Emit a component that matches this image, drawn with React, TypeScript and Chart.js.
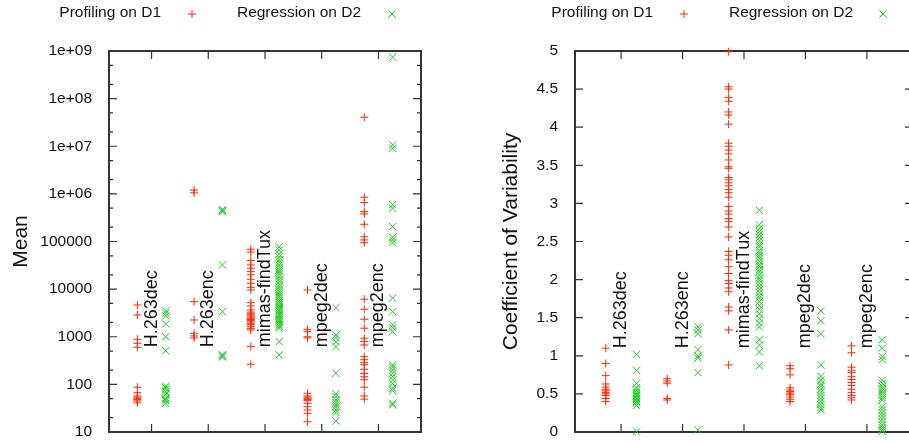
import React, { useEffect, useRef } from 'react';
import { Chart, registerables } from 'chart.js';

Chart.register(...registerables);

const FONT = '"Liberation Sans", Arial, Helvetica, sans-serif';
const RED = '#ff2a00';
const GREEN = '#1ec81e';
const INK = '#111111';
const FRAME = '#333333';

const categories = ['H.263dec', 'H.263enc', 'mimas-findTux', 'mpeg2dec', 'mpeg2enc'];
const groupPositions = [1, 2, 3, 4, 5];
const seriesNames = ['Profiling on D1', 'Regression on D2'];
const seriesOffsets = [-0.25, 0.25];

// ---- Mean (log scale) ----
const meanTickValues = [10, 100, 1000, 10000, 100000, 1e6, 1e7, 1e8, 1e9];
const meanTickLabels = ['10', '100', '1000', '10000', '100000', '1e+06', '1e+07', '1e+08', '1e+09'];
const meanMinorTicks = [20, 50, 200, 500, 2000, 5000, 2e4, 5e4, 2e5, 5e5, 2e6, 5e6, 2e7, 5e7, 2e8, 5e8];
const meanLabelAnchor = 600;

const meanProfH263dec = [4640, 2860, 885, 730, 600, 87, 67, 57, 54, 51, 48, 45, 41];
const meanRegH263dec = [3480, 3120, 2740, 1860, 1000, 510, 92, 85, 79, 70, 62, 51, 48, 45, 40];
const meanProfH263enc = [1200000, 1050000, 5460, 2250, 1180, 1040, 944];
const meanRegH263enc = [470000, 440000, 420000, 32200, 3370, 420, 395, 375];
const meanProfMimas = [68900, 60000, 40000, 32200, 27500, 23300, 20000, 16100, 13300, 10900, 9600, 5200, 4430, 3650, 3300, 3110, 2900, 2730, 2600, 2440, 2300, 2180, 2050, 1920, 1800, 1630, 1500, 1390, 620, 264];
const meanRegMimas = [77000, 66000, 54000, 47000, 41000, 36500, 32000, 28500, 25500, 23000, 20500, 18200, 16000, 14300, 12600, 11200, 9900, 8800, 7900, 7100, 6400, 5800, 5300, 4800, 4400, 4050, 3700, 3450, 3150, 2900, 2700, 2480, 2300, 2120, 1960, 1800, 1650, 1520, 790, 415];
const meanProfMpeg2dec = [9600, 1430, 1280, 1000, 944, 65, 57, 54, 51, 48, 45.5, 40, 34, 29, 24.7, 16.5];
const meanRegMpeg2dec = [4090, 1090, 960, 787, 620, 171, 63, 55, 47, 41.5, 37, 33, 29, 25.5, 17];
const meanProfMpeg2enc = [40800000, 850000, 657000, 425000, 380000, 230000, 126000, 108000, 94000, 6140, 3790, 2330, 1510, 931, 800, 673, 382, 330, 290, 260, 207, 170, 145, 125, 87, 57, 49];
const meanRegMpeg2enc = [740000000, 10700000, 9100000, 590000, 500000, 205000, 123000, 108000, 94000, 6460, 3370, 1770, 1550, 1280, 256, 230, 200, 171, 145, 124, 104, 83, 74, 40, 37];

const meanProfiling = [meanProfH263dec, meanProfH263enc, meanProfMimas, meanProfMpeg2dec, meanProfMpeg2enc];
const meanRegression = [meanRegH263dec, meanRegH263enc, meanRegMimas, meanRegMpeg2dec, meanRegMpeg2enc];

// ---- Coefficient of Variability (linear) ----
const cvTickValues = [0, 0.5, 1, 1.5, 2, 2.5, 3, 3.5, 4, 4.5, 5];
const cvTickLabels = ['0', '0.5', '1', '1.5', '2', '2.5', '3', '3.5', '4', '4.5', '5'];
const cvLabelAnchor = 1.1;

const cvProfH263dec = [1.10, 0.90, 0.74, 0.63, 0.59, 0.56, 0.54, 0.52, 0.50, 0.48, 0.44, 0.40];
const cvRegH263dec = [1.02, 0.81, 0.64, 0.58, 0.55, 0.52, 0.50, 0.48, 0.46, 0.44, 0.42, 0.40, 0.38, 0.35, 0.01];
const cvProfH263enc = [0.70, 0.67, 0.64, 0.44, 0.42];
const cvRegH263enc = [1.38, 1.34, 1.29, 1.08, 1.00, 0.97, 0.78, 0.03];
const cvProfMimas = [4.99, 4.53, 4.50, 4.39, 4.34, 4.20, 4.16, 4.04, 3.79, 3.75, 3.70, 3.65, 3.57, 3.48, 3.46, 3.34, 3.31, 3.27, 3.23, 3.18, 3.14, 3.08, 2.96, 2.90, 2.86, 2.80, 2.76, 2.69, 2.56, 2.37, 2.32, 2.26, 2.17, 2.08, 1.99, 1.95, 1.89, 1.84, 1.64, 1.59, 1.34, 0.88];
const cvRegMimas = [2.91, 2.72, 2.67, 2.63, 2.59, 2.55, 2.51, 2.46, 2.43, 2.38, 2.35, 2.31, 2.28, 2.24, 2.20, 2.17, 2.13, 2.10, 2.06, 2.02, 1.99, 1.95, 1.91, 1.87, 1.83, 1.79, 1.76, 1.71, 1.66, 1.61, 1.55, 1.49, 1.43, 1.38, 1.21, 1.14, 1.05, 0.87];
const cvProfMpeg2dec = [0.87, 0.83, 0.75, 0.58, 0.55, 0.53, 0.51, 0.49, 0.46, 0.43, 0.40];
const cvRegMpeg2dec = [1.59, 1.46, 1.29, 0.88, 0.73, 0.68, 0.63, 0.60, 0.56, 0.52, 0.48, 0.44, 0.40, 0.36, 0.32, 0.29];
const cvProfMpeg2enc = [1.13, 1.04, 0.85, 0.81, 0.78, 0.73, 0.69, 0.65, 0.61, 0.56, 0.52, 0.48, 0.45, 0.42];
const cvRegMpeg2enc = [1.21, 1.10, 0.99, 0.95, 0.68, 0.64, 0.60, 0.57, 0.54, 0.51, 0.48, 0.45, 0.42, 0.33, 0.29, 0.25, 0.21, 0.17, 0.13, 0.09, 0.06, 0.03, 0.01];

const cvProfiling = [cvProfH263dec, cvProfH263enc, cvProfMimas, cvProfMpeg2dec, cvProfMpeg2enc];
const cvRegression = [cvRegH263dec, cvRegH263enc, cvRegMimas, cvRegMpeg2dec, cvRegMpeg2enc];

function toPoints(groups: number[][], offset: number) {
  const pts: { x: number; y: number }[] = [];
  groups.forEach((vals, i) => {
    vals.forEach((v) => pts.push({ x: groupPositions[i] + offset, y: v }));
  });
  return pts;
}

const framePlugin = {
  id: 'frame',
  beforeDatasetsDraw(chart: any, _args: any, opts: any) {
    const { ctx, chartArea: a, scales } = chart;
    const xs = scales.x;
    const ys = scales.y;
    ctx.save();
    ctx.strokeStyle = FRAME;
    ctx.lineWidth = 1.2;
    ctx.beginPath();
    for (const v of opts.major) {
      const py = ys.getPixelForValue(v);
      ctx.moveTo(a.left, py); ctx.lineTo(a.left + 8, py);
      ctx.moveTo(a.right, py); ctx.lineTo(a.right - 8, py);
    }
    for (const v of opts.minor) {
      const py = ys.getPixelForValue(v);
      ctx.moveTo(a.left, py); ctx.lineTo(a.left + 4, py);
      ctx.moveTo(a.right, py); ctx.lineTo(a.right - 4, py);
    }
    for (const v of groupPositions) {
      const px = xs.getPixelForValue(v);
      ctx.moveTo(px, a.bottom); ctx.lineTo(px, a.bottom - 8);
      ctx.moveTo(px, a.top); ctx.lineTo(px, a.top + 8);
    }
    ctx.stroke();
    ctx.lineWidth = 2;
    ctx.strokeRect(a.left, a.top, a.right - a.left, a.bottom - a.top);
    ctx.restore();
  },
};

const categoryLabelPlugin = {
  id: 'catLabels',
  afterDatasetsDraw(chart: any, _args: any, opts: any) {
    const { ctx, scales } = chart;
    const py = scales.y.getPixelForValue(opts.anchor);
    ctx.save();
    ctx.fillStyle = INK;
    ctx.font = `18px ${FONT}`;
    ctx.textAlign = 'left';
    ctx.textBaseline = 'middle';
    categories.forEach((c, i) => {
      const px = scales.x.getPixelForValue(groupPositions[i]);
      ctx.save();
      ctx.translate(px, py);
      ctx.rotate(-Math.PI / 2);
      ctx.fillText(c, 0, 0);
      ctx.restore();
    });
    ctx.restore();
  },
};

const keyPlugin = {
  id: 'key',
  afterDraw(chart: any, _args: any, opts: any) {
    const { ctx } = chart;
    ctx.save();
    ctx.font = `15.5px ${FONT}`;
    ctx.textAlign = 'right';
    ctx.textBaseline = 'middle';
    const y = 13;
    seriesNames.forEach((name, i) => {
      ctx.fillStyle = INK;
      ctx.fillText(name, opts.textRight[i], y);
      const mx = opts.markerX[i];
      const my = 14;
      ctx.strokeStyle = i === 0 ? RED : GREEN;
      ctx.lineWidth = 1;
      ctx.beginPath();
      if (i === 0) {
        ctx.moveTo(mx - 4, my); ctx.lineTo(mx + 4, my);
        ctx.moveTo(mx, my - 4); ctx.lineTo(mx, my + 4);
      } else {
        ctx.moveTo(mx - 3.7, my - 3.7); ctx.lineTo(mx + 3.7, my + 3.7);
        ctx.moveTo(mx - 3.7, my + 3.7); ctx.lineTo(mx + 3.7, my - 3.7);
      }
      ctx.stroke();
    });
    ctx.restore();
  },
};

function makeConfig(p: any): any {
  return {
    type: 'scatter',
    data: {
      datasets: [
        {
          label: seriesNames[0],
          data: toPoints(p.profiling, seriesOffsets[0]),
          pointStyle: 'cross',
          pointRadius: 4,
          borderColor: RED,
          backgroundColor: 'rgba(0,0,0,0)',
          borderWidth: 1,
          clip: false,
        },
        {
          label: seriesNames[1],
          data: toPoints(p.regression, seriesOffsets[1]),
          pointStyle: 'crossRot',
          pointRadius: 5.2,
          borderColor: GREEN,
          backgroundColor: 'rgba(0,0,0,0)',
          borderWidth: 1,
          clip: false,
        },
      ],
    },
    options: {
      animation: false,
      responsive: false,
      maintainAspectRatio: false,
      events: [],
      layout: { autoPadding: false, padding: { left: 0, right: p.padRight, top: 51, bottom: 10 } },
      plugins: {
        legend: { display: false },
        tooltip: { enabled: false },
        frame: { major: p.tickValues, minor: p.minor },
        catLabels: { anchor: p.labelAnchor },
        key: { textRight: p.keyTextRight, markerX: p.keyMarkerX },
      },
      scales: {
        x: {
          type: 'linear',
          display: false,
          min: 0.25,
          max: 5.75,
          ticks: { display: false },
          grid: { display: false },
          border: { display: false },
        },
        y: {
          type: p.log ? 'logarithmic' : 'linear',
          position: 'left',
          min: p.min,
          max: p.max,
          grid: { display: false },
          border: { display: false },
          afterBuildTicks: (s: any) => { s.ticks = p.tickValues.map((v: number) => ({ value: v })); },
          afterFit: (s: any) => {
            s.width = p.axisWidth;
            s.paddingTop = 0;
            s.paddingBottom = 0;
          },
          ticks: {
            autoSkip: false,
            padding: 9,
            color: INK,
            font: { family: FONT, size: 15.5 },
            callback: (v: number) => {
              const idx = p.tickValues.indexOf(v);
              return idx >= 0 ? p.tickLabels[idx] : '';
            },
          },
          title: {
            display: true,
            text: p.title,
            color: INK,
            font: { family: FONT, size: 21 },
            padding: { top: p.titlePad, bottom: 0 },
          },
        },
      },
    },
    plugins: [framePlugin, categoryLabelPlugin, keyPlugin],
  };
}

function Panel(props: { cfg: any; left: number; width: number }) {
  const ref = useRef<HTMLCanvasElement | null>(null);
  useEffect(() => {
    if (!ref.current) return;
    const chart = new Chart(ref.current, makeConfig(props.cfg));
    return () => chart.destroy();
  }, []);
  return (
    <canvas
      ref={ref}
      width={props.width}
      height={442}
      style={{ position: 'absolute', left: props.left, top: 0, width: props.width, height: 442 }}
    />
  );
}

const meanPanel = {
  profiling: meanProfiling,
  regression: meanRegression,
  log: true,
  min: 10,
  max: 1e9,
  tickValues: meanTickValues,
  tickLabels: meanTickLabels,
  minor: meanMinorTicks,
  labelAnchor: meanLabelAnchor,
  title: 'Mean',
  titlePad: 8.5,
  axisWidth: 109,
  padRight: 34,
  keyTextRight: [161, 361],
  keyMarkerX: [192, 392],
};

const cvPanel = {
  profiling: cvProfiling,
  regression: cvRegression,
  log: false,
  min: 0,
  max: 5,
  tickValues: cvTickValues,
  tickLabels: cvTickLabels,
  minor: [],
  labelAnchor: cvLabelAnchor,
  title: 'Coefficient of Variability',
  titlePad: 44,
  axisWidth: 120,
  padRight: 12,
  keyTextRight: [198, 398],
  keyMarkerX: [229, 428],
};

export default function App() {
  useEffect(() => {
    document.body.style.margin = '0';
    document.body.style.overflow = 'hidden';
  }, []);
  return (
    <div style={{ position: 'relative', width: 909, height: 442, overflow: 'hidden', background: '#ffffff' }}>
      <Panel cfg={meanPanel} left={0} width={455} />
      <Panel cfg={cvPanel} left={455} width={470} />
    </div>
  );
}
